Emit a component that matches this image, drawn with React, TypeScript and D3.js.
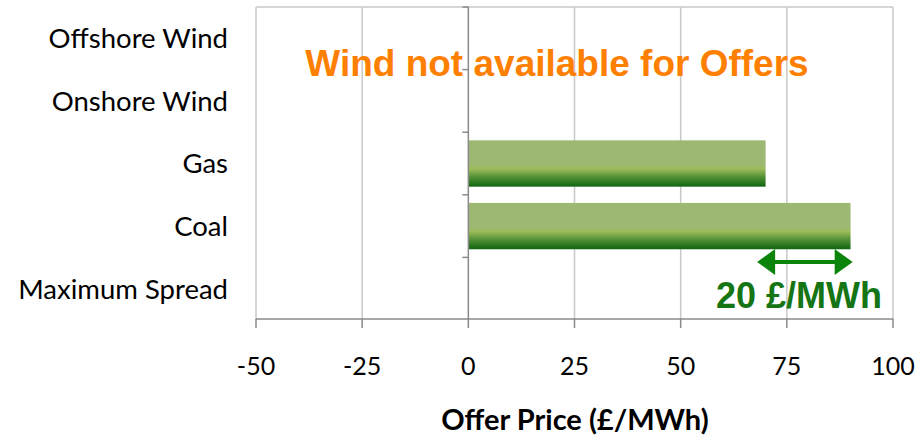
import React from "react";
import * as d3 from "d3";

const categories = ["Offshore Wind", "Onshore Wind", "Gas", "Coal", "Maximum Spread"];
const offerValues: (number | null)[] = [null, null, 70, 90, null];
const xTicks = [-50, -25, 0, 25, 50, 75, 100];
const spreadFrom = 68;
const spreadTo = 90.5;
const spreadLabel = "20 £/MWh";
const noteText = "Wind not available for Offers";
const axisTitle = "Offer Price (£/MWh)";

const W = 921;
const H = 435;
const left = 256;
const right = 893;
const top = 7;
const bottom = 320;

export default function App() {
  const x = d3.scaleLinear().domain([-50, 100]).range([left, right]);
  const y = d3.scaleBand<string>().domain(categories).range([top, bottom]).paddingInner(0.26).paddingOuter(0.13);
  const yb = d3.scaleBand<string>().domain(categories).range([top, bottom]);
  const calibri = "Lato, 'Open Sans', sans-serif";
  const arial = "'Liberation Sans', Arial, sans-serif";
  const ay = 262;
  const x1 = x(spreadFrom);
  const x2 = x(spreadTo);
  const hl = 18;
  const hh = 13;
  return (
    <svg width={W} height={H} style={{ position: "absolute", left: 0, top: 0, background: "#fff" }}>
      <defs>
        <linearGradient id="barGrad" x1="0" y1="0" x2="0" y2="1">
          <stop offset="0" stopColor="#9db872" />
          <stop offset="0.52" stopColor="#9db872" />
          <stop offset="0.62" stopColor="#9bbb59" />
          <stop offset="0.8" stopColor="#4f8f35" />
          <stop offset="1" stopColor="#0f6510" />
        </linearGradient>
      </defs>
      {/* grid */}
      {xTicks.filter((t) => t !== 0).map((t) => (
        <line key={t} x1={x(t)} x2={x(t)} y1={top} y2={bottom} stroke="#c8c8c8" strokeWidth={1.5} />
      ))}
      <line x1={left} x2={right} y1={top} y2={top} stroke="#c8c8c8" strokeWidth={1.5} />
      {/* bars */}
      {categories.map((c, i) => {
        const v = offerValues[i];
        if (v == null) return null;
        return (
          <rect key={c} x={x(0)} y={y(c)} width={x(v) - x(0)} height={y.bandwidth()} fill="url(#barGrad)" />
        );
      })}
      {/* zero axis */}
      <line x1={x(0)} x2={x(0)} y1={top} y2={bottom} stroke="#8a8a8a" strokeWidth={1.5} />
      {categories.map((c) => (
        <line key={c} x1={x(0) - 6} x2={x(0)} y1={yb(c)} y2={yb(c)} stroke="#8a8a8a" strokeWidth={1.5} />
      ))}
      {/* bottom axis */}
      <line x1={left} x2={right} y1={bottom - 1} y2={bottom - 1} stroke="#8a8a8a" strokeWidth={1.5} />
      {xTicks.map((t) => (
        <g key={t}>
          <line x1={x(t)} x2={x(t)} y1={bottom - 1} y2={bottom + 8} stroke="#8a8a8a" strokeWidth={1.5} />
          <text x={x(t)} y={375} textAnchor="middle" fontFamily={calibri} fontSize={25} fill="#000">
            {t}
          </text>
        </g>
      ))}
      {/* category labels */}
      {categories.map((c) => (
        <text
          key={c}
          x={228}
          y={(yb(c) as number) + yb.bandwidth() / 2}
          dy="0.36em"
          textAnchor="end"
          fontFamily={calibri}
          fontSize={27.5}
          fill="#000"
        >
          {c}
        </text>
      ))}
      <text x={575} y={430} textAnchor="middle" fontFamily={calibri} fontWeight="bold" fontSize={29} fill="#000">
        {axisTitle}
      </text>
      {/* annotation */}
      <text x={557} y={76} textAnchor="middle" fontFamily={arial} fontWeight="bold" fontSize={37} fill="#ff7f00">
        {noteText}
      </text>
      <line x1={x1 + hl - 1} x2={x2 - hl + 1} y1={ay} y2={ay} stroke="#0a840a" strokeWidth={4} />
      <path d={`M${x1},${ay} L${x1 + hl},${ay - hh} L${x1 + hl},${ay + hh} Z`} fill="#0a840a" />
      <path d={`M${x2},${ay} L${x2 - hl},${ay - hh} L${x2 - hl},${ay + hh} Z`} fill="#0a840a" />
      <text x={882} y={308} textAnchor="end" fontFamily={arial} fontWeight="bold" fontSize={36} fill="#157515">
        {spreadLabel}
      </text>
    </svg>
  );
}
